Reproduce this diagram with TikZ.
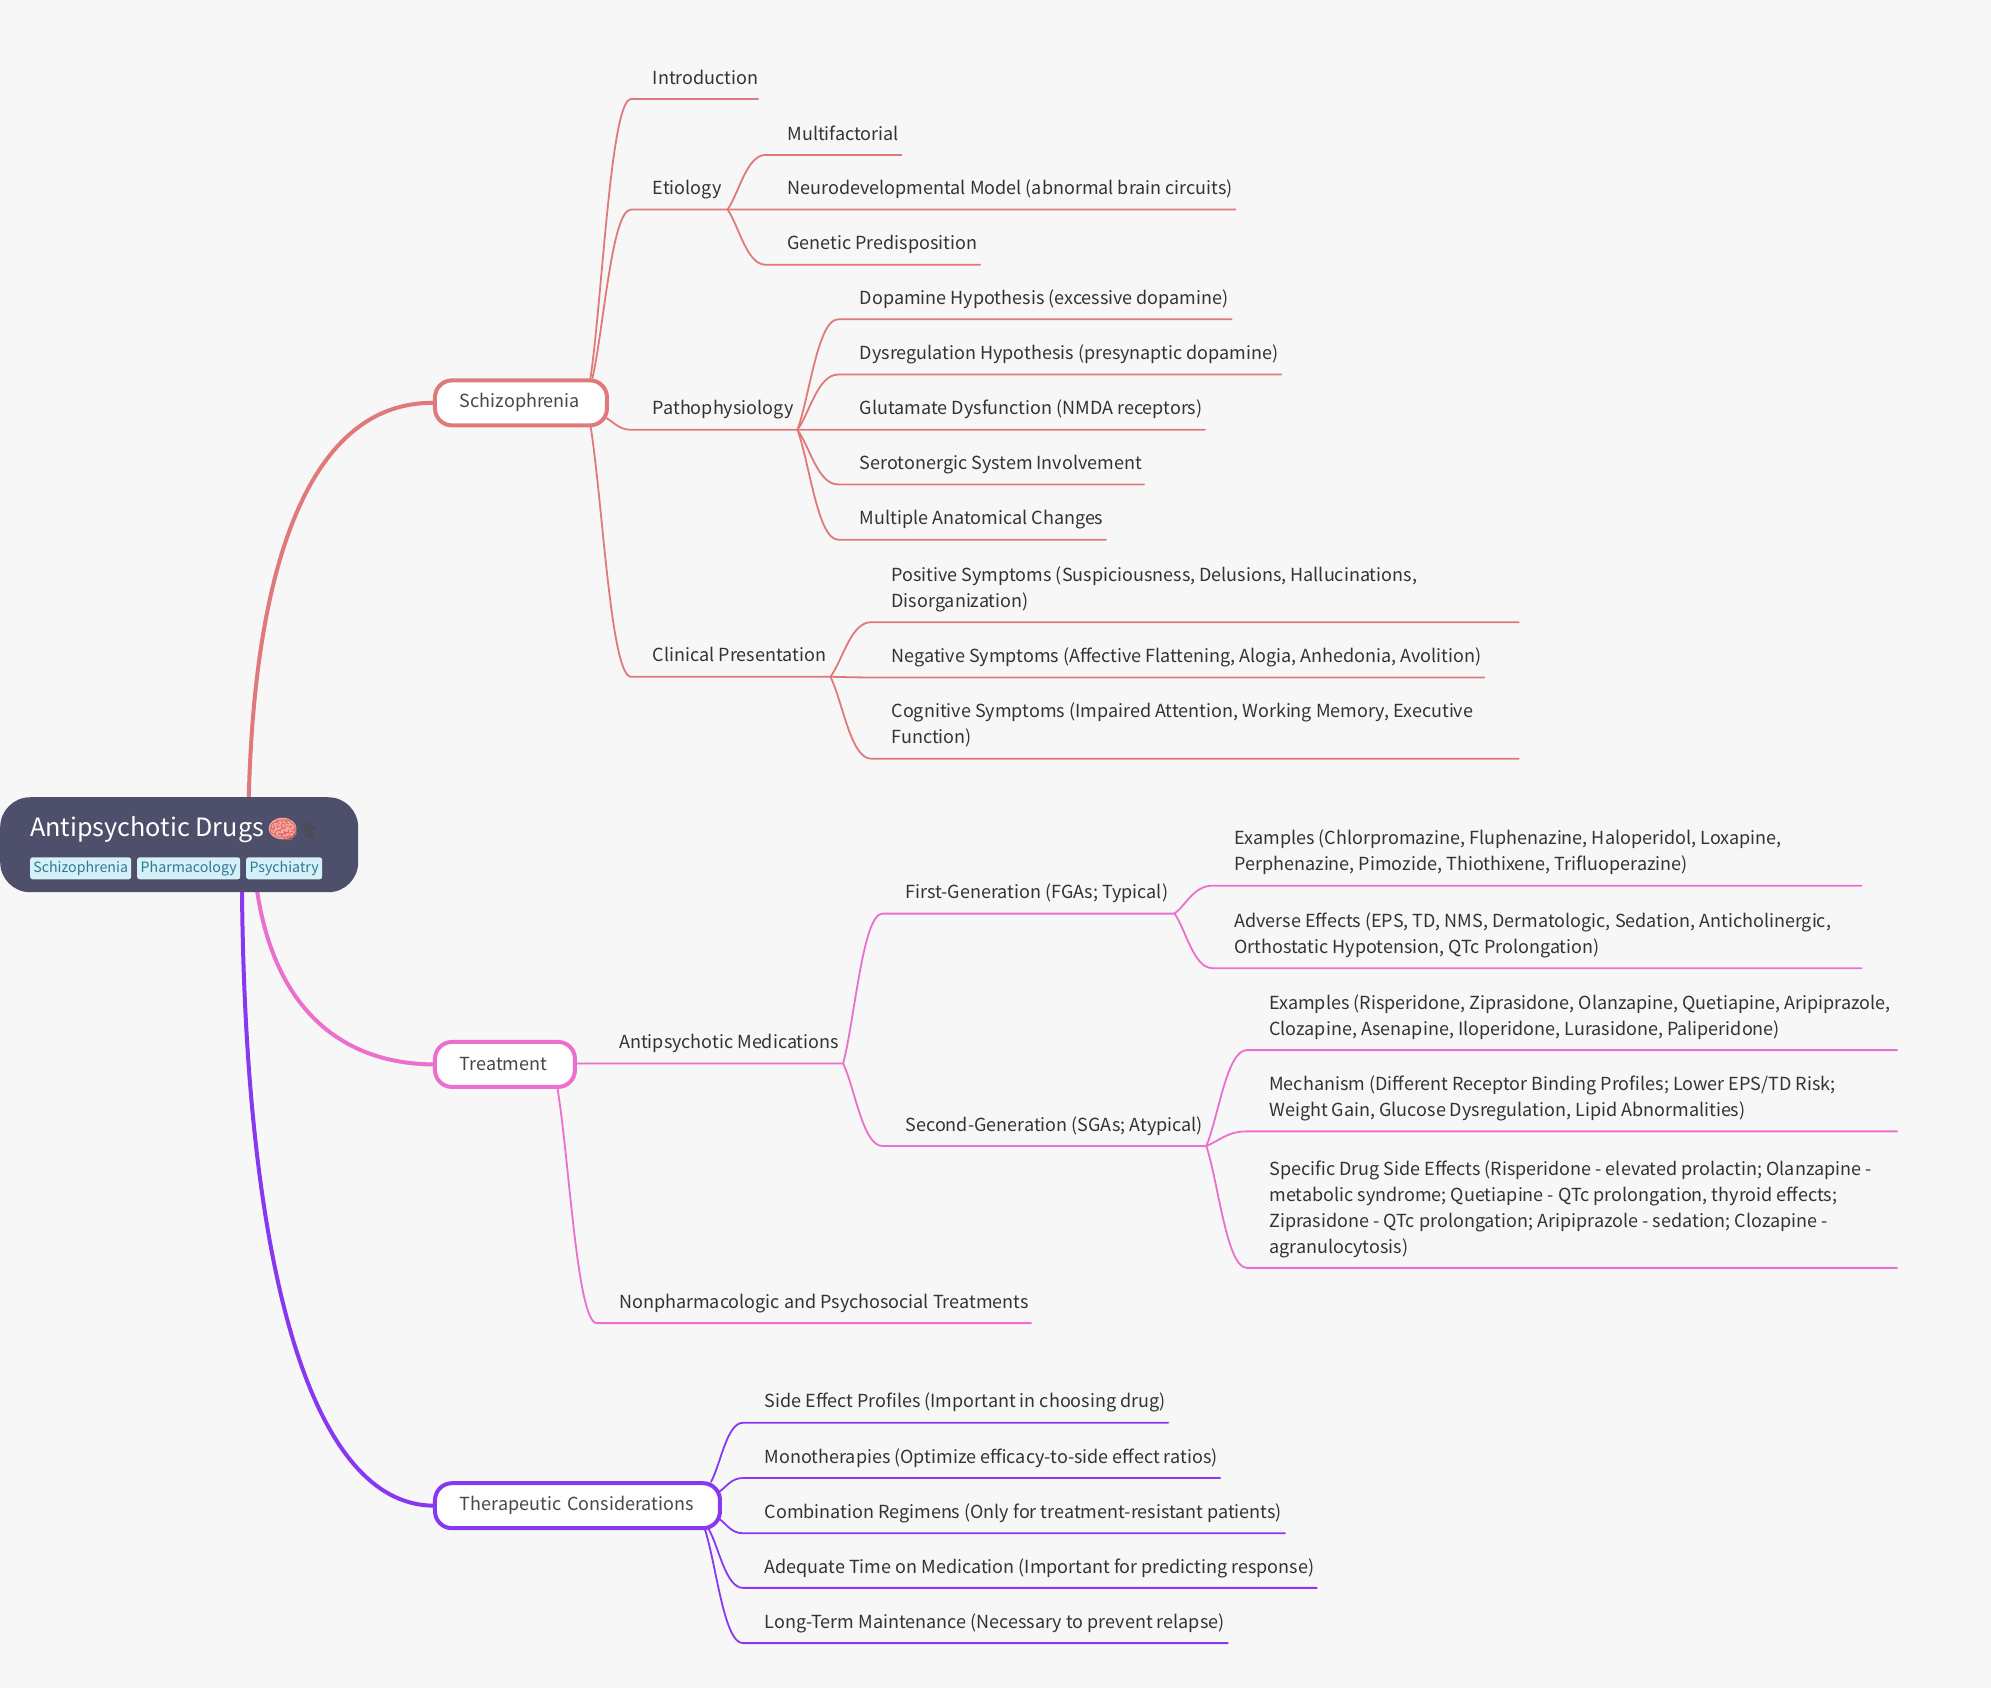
\documentclass[tikz,border=0pt]{standalone}
\usepackage{fontspec}
\setmainfont{Noto Sans CJK SC}
\newfontfamily\emojifont{Noto Emoji}
\usetikzlibrary{calc}
\definecolor{bgc}{HTML}{F7F7F7}
\definecolor{cred}{HTML}{E07A7A}
\definecolor{cpink}{HTML}{EC6ECD}
\definecolor{cpur}{HTML}{8838F0}
\definecolor{rootc}{HTML}{4D4F6B}
\definecolor{tagbg}{HTML}{D5F0F7}
\definecolor{tagfg}{HTML}{2E7A94}
\definecolor{brainc}{HTML}{D9635F}
\definecolor{brainf}{HTML}{F8A5A0}
\pgfdeclarelayer{paper}
\pgfdeclarelayer{back}
\pgfsetlayers{paper,back,main}
\newcommand{\lft}{\fontsize{18}{26}\selectfont}
\newcommand{\stt}{\rule[-6pt]{0pt}{20pt}}
\tikzset{
  leaftext/.style={anchor=south west,inner sep=0pt,align=left,text=black!80,font=\lft},
  lone/.style={draw=#1,line width=4pt,fill=white,rounded corners=17pt,anchor=north west,
     minimum height=45pt,inner ysep=0pt,inner xsep=25pt,align=left,text=black!72,font=\lft},
  wire/.style={draw=#1,line width=1.8pt,line cap=round},
  trunk/.style={draw=#1,line width=4pt},
  tagnode/.style={fill=tagbg,text=tagfg,rounded corners=2.5pt,anchor=north west,inner sep=0pt,
     minimum height=22pt,font=\fontsize{14.2}{16}\selectfont}
}
% \leaf{name}{xstart}{xtext}{xend}{yline}{text}
\newcommand{\leaf}[6]{%
  \node[leaftext] (#1) at (#3,#5-6.8) {#6};
  \coordinate (#1s) at (#2,#5);
  \coordinate (#1e) at (#4,#5);}
% \conn{colour}{from}{to}
\newcommand{\conn}[3]{%
  \begin{pgfonlayer}{back}
  \coordinate (mm) at ($(#2)!.5!(#3s)$);
  \draw[wire=#1] (#2) .. controls ($(#2)!.3!(#3s)$) and (mm |- #3s) .. (#3s) -- (#3e);
  \end{pgfonlayer}}
\begin{document}
\begin{tikzpicture}[x=1.26977pt,y=-1.26977pt]
\begin{pgfonlayer}{paper}
\useasboundingbox[fill=bgc] (0,0) rectangle (1568,1329.36);
\end{pgfonlayer}

% root
\node[fill=rootc,rounded corners=30pt,anchor=north west,minimum width=358pt,minimum height=95pt,inner sep=0pt] (root) at (0,627.7) {};
\node[anchor=base west,inner sep=0pt,text=white,font=\fontsize{25.2}{27}\selectfont] (title) at (23.6,658.5) {Antipsychotic Drugs};
\fill[brainf] (222.5,652.5) ellipse (11 and 8.5);
\node[anchor=base west,inner sep=0pt,text=brainc,font=\emojifont\fontsize{24}{24}\selectfont] (brain) at (211,660) {^^^^^^01f9e0};
\node[anchor=base west,inner sep=0pt,text=black!70,font=\emojifont\fontsize{16}{16}\selectfont] (staff) at (235.5,658.5) {^^^^2695};
\node[tagnode,minimum width=101pt] (tag1) at (23.6,675) {Schizophrenia};
\node[tagnode,minimum width=103pt] (tag2) at (107.9,675) {Pharmacology};
\node[tagnode,minimum width=76pt] (tag3) at (193.7,675) {Psychiatry};

% level one
\node[lone=cred,text width=122pt] (sch) at (341,298) {Schizophrenia};
\node[lone=cpink,text width=90pt] (trt) at (341,819) {Treatment};
\node[lone=cpur,text width=235pt] (thc) at (341,1166.5) {Therapeutic Considerations};

\coordinate (rA) at (195.5,660);
\coordinate (rB) at (201,690);
\coordinate (rC) at (190.5,690);
\begin{pgfonlayer}{back}
\draw[trunk=cred] (rA) .. controls (196,430) and (250,316.5) .. (sch.west);
\draw[trunk=cpink] (rB) .. controls (212,790) and (265,837.5) .. (trt.west);
\draw[trunk=cpur] (rC) .. controls (192,1000) and (245,1184.5) .. (thc.west);
\end{pgfonlayer}

% Schizophrenia branch
\leaf{intro}{497}{514}{597}{78}{\stt Introduction}
\leaf{etio}{497}{514}{573}{165}{\stt Etiology}
\leaf{path}{497}{514}{628}{338.5}{\stt Pathophysiology}
\leaf{clin}{497}{514}{654}{533}{\stt Clinical Presentation}
\coordinate (sa) at (465,298);
\coordinate (sb) at (466.5,298);
\coordinate (sc) at (477,329);
\coordinate (sd) at (465,335);
\conn{cred}{sa}{intro}
\conn{cred}{sb}{etio}
\conn{cred}{sc}{path}
\conn{cred}{sd}{clin}

\leaf{e1}{603}{620}{710}{122}{\stt Multifactorial}
\leaf{e2}{603}{620}{973}{165}{\stt Neurodevelopmental Model (abnormal brain circuits)}
\leaf{e3}{603}{620}{772}{208.5}{\stt Genetic Predisposition}
\conn{cred}{etioe}{e1}
\conn{cred}{etioe}{e2}
\conn{cred}{etioe}{e3}

\leaf{p1}{660}{677}{970}{251.5}{\stt Dopamine Hypothesis (excessive dopamine)}
\leaf{p2}{660}{677}{1009}{295}{\stt Dysregulation Hypothesis (presynaptic dopamine)}
\leaf{p3}{660}{677}{949}{338.5}{\stt Glutamate Dysfunction (NMDA receptors)}
\leaf{p4}{660}{677}{901}{381.5}{\stt Serotonergic System Involvement}
\leaf{p5}{660}{677}{871}{425}{\stt Multiple Anatomical Changes}
\conn{cred}{pathe}{p1}
\conn{cred}{pathe}{p2}
\conn{cred}{pathe}{p3}
\conn{cred}{pathe}{p4}
\conn{cred}{pathe}{p5}

\leaf{c1}{686}{702}{1196}{490}{\stt Positive Symptoms (Suspiciousness, Delusions, Hallucinations,\\\stt Disorganization)}
\leaf{c2}{686}{702}{1169}{533.5}{\stt Negative Symptoms (Affective Flattening, Alogia, Anhedonia, Avolition)}
\leaf{c3}{686}{702}{1196}{597.5}{\stt Cognitive Symptoms (Impaired Attention, Working Memory, Executive\\\stt Function)}
\conn{cred}{cline}{c1}
\conn{cred}{cline}{c2}
\conn{cred}{cline}{c3}

% Treatment branch
\leaf{am}{470}{487.5}{664}{837.5}{\stt Antipsychotic Medications}
\leaf{np}{470}{487.5}{812}{1042}{\stt Nonpharmacologic and Psychosocial Treatments}
\coordinate (ta) at (453,837.5);
\coordinate (tb) at (439,857);
\conn{cpink}{ta}{am}
\conn{cpink}{tb}{np}

\leaf{fg}{695}{713}{925}{719.5}{\stt First-Generation (FGAs; Typical)}
\leaf{sg}{695}{713}{950}{902.5}{\stt Second-Generation (SGAs; Atypical)}
\conn{cpink}{ame}{fg}
\conn{cpink}{ame}{sg}

\leaf{f1}{955}{972}{1466}{697.5}{\stt Examples (Chlorpromazine, Fluphenazine, Haloperidol, Loxapine,\\\stt Perphenazine, Pimozide, Thiothixene, Trifluoperazine)}
\leaf{f2}{955}{972}{1466}{762.5}{\stt Adverse Effects (EPS, TD, NMS, Dermatologic, Sedation, Anticholinergic,\\\stt Orthostatic Hypotension, QTc Prolongation)}
\conn{cpink}{fge}{f1}
\conn{cpink}{fge}{f2}

\leaf{s1}{982}{999.5}{1494}{827}{\stt Examples (Risperidone, Ziprasidone, Olanzapine, Quetiapine, Aripiprazole,\\\stt Clozapine, Asenapine, Iloperidone, Lurasidone, Paliperidone)}
\leaf{s2}{982}{999.5}{1494}{891}{\stt Mechanism (Different Receptor Binding Profiles; Lower EPS/TD Risk;\\\stt Weight Gain, Glucose Dysregulation, Lipid Abnormalities)}
\leaf{s3}{982}{999.5}{1494}{998.5}{\stt Specific Drug Side Effects (Risperidone - elevated prolactin; Olanzapine -\\\stt metabolic syndrome; Quetiapine - QTc prolongation, thyroid effects;\\\stt Ziprasidone - QTc prolongation; Aripiprazole - sedation; Clozapine -\\\stt agranulocytosis)}
\conn{cpink}{sge}{s1}
\conn{cpink}{sge}{s2}
\conn{cpink}{sge}{s3}

% Therapeutic branch
\leaf{h1}{585}{602}{920}{1120.5}{\stt Side Effect Profiles (Important in choosing drug)}
\leaf{h2}{585}{602}{961}{1164}{\stt Monotherapies (Optimize efficacy-to-side effect ratios)}
\leaf{h3}{585}{602}{1012}{1207.5}{\stt Combination Regimens (Only for treatment-resistant patients)}
\leaf{h4}{585}{602}{1037}{1250.5}{\stt Adequate Time on Medication (Important for predicting response)}
\leaf{h5}{585}{602}{967}{1294}{\stt Long-Term Maintenance (Necessary to prevent relapse)}
\coordinate (ha) at (560,1167);
\coordinate (hb) at (566,1175);
\coordinate (hc) at (566,1196);
\coordinate (hd) at (558,1204);
\coordinate (he) at (555,1204);
\conn{cpur}{ha}{h1}
\conn{cpur}{hb}{h2}
\conn{cpur}{hc}{h3}
\conn{cpur}{hd}{h4}
\conn{cpur}{he}{h5}
\end{tikzpicture}
\end{document}
